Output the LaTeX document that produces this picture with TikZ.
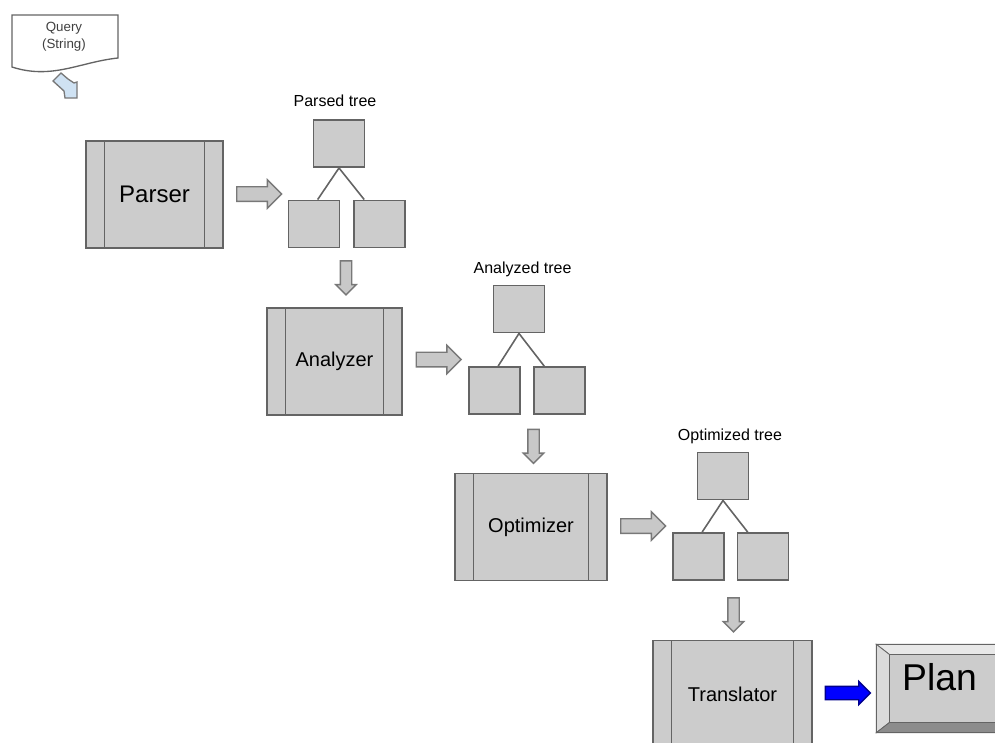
\documentclass[tikz,border=0pt]{standalone}
\usepackage{fontspec}
\setmainfont{Liberation Sans}
\usepackage{tikz}
\usetikzlibrary{shapes.arrows}

\definecolor{boxfill}{RGB}{204,204,204}
\definecolor{boxline}{RGB}{100,100,100}
\definecolor{arrowfill}{RGB}{200,200,200}
\definecolor{arrowline}{RGB}{120,120,120}
\definecolor{qblue}{RGB}{207,226,243}
\definecolor{planblue}{RGB}{0,0,255}

\tikzset{
  proc/.style={draw=boxline, fill=boxfill, line width=1.2pt, minimum width=#1, minimum height=80.5pt, inner sep=0pt,
    font=\fontsize{15}{18}\selectfont,
    path picture={\draw[boxline, line width=1.2pt]
      ([xshift=14pt]path picture bounding box.north west) -- ([xshift=14pt]path picture bounding box.south west)
      ([xshift=-14pt]path picture bounding box.north east) -- ([xshift=-14pt]path picture bounding box.south east);}},
  leaf/.style={draw=boxline, fill=boxfill, line width=1.2pt, minimum width=38.5pt, minimum height=35.5pt, inner sep=0pt},
  treelabel/.style={inner sep=0.75pt, font=\fontsize{12}{14}\selectfont},
  garrow/.style={single arrow, draw=arrowline, fill=arrowfill, line width=1pt, inner sep=5pt,
    minimum height=33.75pt, single arrow head extend=5.25pt},
  darrow/.style={single arrow, shape border rotate=270, draw=arrowline, fill=arrowfill, line width=1pt,
    inner sep=3.75pt, minimum height=25.5pt, single arrow head extend=3.4pt},
  edge/.style={draw=boxline, line width=1.2pt}
}

\begin{document}
\begin{tikzpicture}[x=0.75pt,y=0.75pt,yscale=-1,xscale=1]
\useasboundingbox (0,0) rectangle (995,742);

%Flowchart: Document [id:query]
\draw [draw=boxline, fill=white, line width=1pt] (12,15) -- (118,15) -- (118,58) .. controls (80,62) and (52,80) .. (12,67) -- cycle ;
% Text Node
\node (qtxt) at (64,37) [align=center, inner sep=0.75pt, text=black!75, font=\fontsize{10}{12.75}\selectfont] {Query\\(String)};
%Shape: Bent Arrow [id:qarrow]
\draw [draw=arrowline, fill=qblue, line width=1pt] (53,81) -- (61,73) -- (68,79) -- (74,83) -- (77,82) -- (77,98) -- (65,98) -- (64,91) -- cycle ;

%Flowchart: Predefined Process [id:parser]
\node (parser) at (154.5,194.5) [proc=102.75pt, font=\fontsize{18}{21}\selectfont] {Parser};
%Right Arrow [id:ga1]
\node (ga1) at (255.5,194) [garrow] {};
% Text Node
\node (plabel) at (335,101) [treelabel] {Parsed tree};
%Shape: Square [id:ptop]
\node (ptop) at (339,143.5) [leaf] {};
\node (pleft) at (314,224) [leaf] {};
\node (pright) at (379.5,224) [leaf] {};
%Straight Lines [id:pedge]
\draw [edge] ([xshift=2.75pt]pleft.north) -- (ptop.south) -- ([xshift=-11.5pt]pright.north) ;
%Down Arrow [id:da1]
\node (da1) at (346,275) [darrow] {};

%Flowchart: Predefined Process [id:analyzer]
\node (analyzer) at (334.5,361.5) [proc=101.25pt] {Analyzer};
%Right Arrow [id:ga2]
\node (ga2) at (435,359.5) [garrow] {};
% Text Node
\node (alabel) at (522.5,269) [treelabel] {Analyzed tree};
%Shape: Square [id:atop]
\node (atop) at (519,309) [leaf] {};
\node (aleft) at (494.5,390.5) [leaf] {};
\node (aright) at (559.5,390.5) [leaf] {};
%Straight Lines [id:aedge]
\draw [edge] ([xshift=2.75pt]aleft.north) -- (atop.south) -- ([xshift=-11.5pt]aright.north) ;
%Down Arrow [id:da2]
\node (da2) at (533.5,443.5) [darrow] {};

%Flowchart: Predefined Process [id:optimizer]
\node (optimizer) at (531,527) [proc=114pt] {Optimizer};
%Right Arrow [id:ga3]
\node (ga3) at (639.5,526) [garrow] {};
% Text Node
\node (olabel) at (730,436) [treelabel] {Optimized tree};
%Shape: Square [id:otop]
\node (otop) at (723,476) [leaf] {};
\node (oleft) at (698.5,556.5) [leaf] {};
\node (oright) at (763,556.5) [leaf] {};
%Straight Lines [id:oedge]
\draw [edge] ([xshift=2.75pt]oleft.north) -- (otop.south) -- ([xshift=-11.5pt]oright.north) ;
%Down Arrow [id:da3]
\node (da3) at (733.5,612) [darrow] {};

%Flowchart: Predefined Process [id:translator]
\node (translator) at (732.5,694) [proc=119.25pt] {Translator};
%Right Arrow [id:ba]
\node (ba) at (844.5,693) [single arrow, draw=blue!55!black, fill=planblue, line width=1pt, inner sep=4.5pt,
  minimum height=33.75pt, single arrow head extend=3.75pt] {};

%Shape: Bevel [id:plan]
\node (plan) at (950,688.5) [draw=boxline, fill=black!38, line width=1pt, minimum width=109.5pt, minimum height=65.25pt] {};
\node (planface) at (950,688.5) [minimum width=90pt, minimum height=50.25pt, inner sep=0pt] {};
\filldraw [fill=black!9, draw=boxline, line width=0.6pt] (plan.north west) -- (plan.north east) -- (planface.north east) -- (planface.north west) -- cycle ;
\filldraw [fill=black!14, draw=boxline, line width=0.6pt] (plan.north west) -- (planface.north west) -- (planface.south west) -- (plan.south west) -- cycle ;
\filldraw [fill=black!45, draw=boxline, line width=0.6pt] (plan.south west) -- (planface.south west) -- (planface.south east) -- (plan.south east) -- cycle ;
\filldraw [fill=black!30, draw=boxline, line width=0.6pt] (plan.north east) -- (planface.north east) -- (planface.south east) -- (plan.south east) -- cycle ;
\filldraw [fill=boxfill, draw=boxline, line width=0.6pt] (planface.north west) rectangle (planface.south east) ;
\draw [draw=boxline, line width=1pt] (plan.north west) rectangle (plan.south east) ;
% Text Node
\node (plantxt) at (939.5,677) [inner sep=0.75pt, font=\fontsize{28}{32}\selectfont] {Plan};

\end{tikzpicture}
\end{document}
